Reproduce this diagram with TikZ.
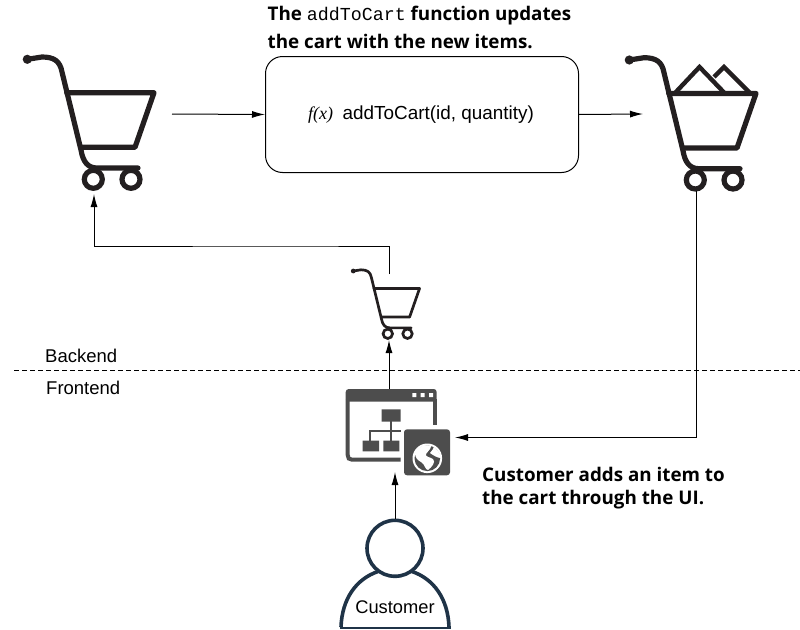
\documentclass[tikz,border=0pt]{standalone}
\usepackage{fontspec}
\setmainfont{Liberation Sans}
\newfontfamily\boldf{Open Sans}
\newfontfamily\serf{Liberation Serif}
\newfontfamily\monof{Liberation Mono}
\usetikzlibrary{arrows.meta}
\definecolor{iconc}{HTML}{231F20}
\definecolor{appc}{HTML}{4D4D4D}
\definecolor{navy}{HTML}{1F3347}
\tikzset{
 conn/.style={draw=black,line width=1pt,-{Latex[length=13pt,width=7pt]}},
 lab/.style={inner sep=0pt,anchor=west,font=\fontsize{18.5}{20}\selectfont},
 note/.style={inner sep=0pt,anchor=west,font=\boldf\bfseries\fontsize{18.8}{21}\selectfont,align=left},
 cartlw/.initial=5.2pt,
 carticon/.pic={
  \draw[line width=\pgfkeysvalueof{/tikz/cartlw},draw=iconc,line cap=round,line join=round]
   (27.3,59.3) -- (42,57) .. controls (54,57) and (60,61) .. (62,72)
   -- (81,150) .. controls (83,162) and (88,168) .. (97,168) -- (138,168);
  \draw[line width=\pgfkeysvalueof{/tikz/cartlw},draw=iconc,line join=round,line cap=round]
   (66.7,92.7) -- (154,92.7) -- (135,147.3) -- (81.7,147.3);
  \draw[line width=\pgfkeysvalueof{/tikz/cartlw},draw=iconc] (93.3,179.3) circle (9) (131,179.3) circle (9);
  \fill[iconc] (27.3,59.3) circle (4.6);
 }
}
\begin{document}
\begin{tikzpicture}[x=1pt,y=-1pt]
\useasboundingbox (0,0) rectangle (800,629);
% carts
\pic at (0,0) {carticon};
\pic at (602,0.7) {carticon};
\draw[line width=4.4pt,draw=iconc,line join=miter] (675,93) -- (699.5,67) -- (724.5,93);
\draw[line width=4.4pt,draw=iconc,line join=miter] (714,77) -- (724,67) -- (750,93);
\begin{scope}[shift={(339,240)},scale=0.523,cartlw=2.7pt]
\pic[transform shape] at (0,0) {carticon};
\end{scope}
% anchors
\coordinate (cartA) at (94,194);
\coordinate (cartAr) at (172,114);
\coordinate (cartB) at (696,191);
\coordinate (cartBl) at (643,114);
\coordinate (smallT) at (389,274);
\coordinate (smallB) at (389,340);
\coordinate (appT) at (389,389);
\coordinate (appR) at (455,437.5);
\coordinate (appB) at (395,472);
% process box
\node[draw=black,line width=1pt,rounded corners=17pt,minimum width=313pt,minimum height=116pt,inner sep=0pt,anchor=north west] (fn) at (265,56) {};
\node[inner sep=0pt,anchor=west] (fntext) at (308,115) {{\serf\itshape\fontsize{18}{20}\selectfont f(x)}\hspace{9.5pt}{\fontsize{18.9}{20}\selectfont addToCart(id, quantity)}};
\node[note] (n1) at (267.5,16) {The {\monof\mdseries\fontsize{18.3}{20}\selectfont addToCart} function updates};
\node[note] (n2) at (267.5,41) {the cart with the new items.};
\node[note] (n3) at (482,474.5) {Customer adds an item to};
\node[note] (n4) at (482,500) {the cart through the UI.};
\node[lab] (be) at (45,356) {Backend};
\node[lab] (fe) at (46,388) {Frontend};
% divider
\coordinate (divL) at (14,370);
\coordinate (divR) at (800,370);
\draw[black,line width=0.9pt,dash pattern=on 5pt off 3pt] (divL) -- (divR);
% app icon
\fill[appc,rounded corners=3pt] (345.7,389) rectangle (436.7,401.7);
\draw[appc,line width=4pt] (347.7,399) -- (347.7,455) .. controls (347.7,458) and (349,459.7) .. (352,459.7) -- (400.7,459.7);
\draw[appc,line width=4pt] (434.7,399) -- (434.7,425);
\fill[white] (412.3,393) rectangle +(4,4) (420.5,393) rectangle +(4,4) (429,393) rectangle +(4,4);
\fill[appc] (381.7,409.3) rectangle (400.7,421.7) (362.7,440.7) rectangle (379,451.3) (383.3,440.7) rectangle (399.3,451.3);
\draw[appc,line width=1.6pt] (391,421) -- (391,441) (370,441) -- (370,430.7) -- (400.7,430.7);
\fill[appc,rounded corners=3pt] (404,429.3) rectangle (450,475.3);
\fill[white] (427.3,458.3) circle (14.8);
\fill[appc] (427.3,458.3) circle (12.8);
\fill[white] (415,453) .. controls (418,446) and (426,444) .. (431,446) .. controls (431,450) and (427,451) .. (426,454)
 .. controls (425,457) and (430,457) .. (433,459) .. controls (436,462) and (432,467) .. (428,470) .. controls (425,470) and (425,464) .. (421,462) .. controls (417,460) and (415,457) .. (415,453) -- cycle;
\fill[white] (434,447) .. controls (437,449) and (440,453) .. (441,458) .. controls (437,458) and (433,455) .. (430,453) .. controls (432,451) and (433,449) .. (434,447) -- cycle;
% person
\node[circle,draw=navy,line width=3.6pt,minimum size=56pt,inner sep=0pt] (head) at (395,548.3) {};
\draw[navy,line width=3.6pt] (341,627) .. controls (342,599) and (356,579) .. (378,571.5);
\draw[navy,line width=3.6pt] (412,571.5) .. controls (434,579) and (448,599) .. (449,627);
\draw[navy,line width=1.6pt] (339.5,627.8) -- (450.5,627.8);
\node[inner sep=0pt] (cust) at (395,607) {\fontsize{18.3}{20}\selectfont Customer};
% connectors
\draw[conn] (cartAr) -- (fn.west);
\draw[conn] (fn.east) -- (cartBl);
\draw[conn] (smallT) |- ++(-100,-28) -| (cartA);
\draw[conn] (appT) -- (smallB);
\draw[conn] (cartB) |- (appR);
\draw[conn] (head.north) -- (appB);
\end{tikzpicture}
\end{document}
